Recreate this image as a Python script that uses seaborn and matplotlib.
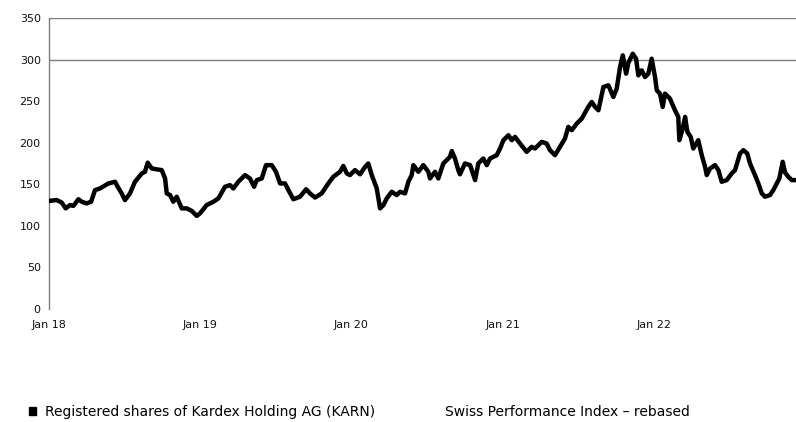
import pandas as pd
import seaborn as sns
import matplotlib.pyplot as plt
import matplotlib.dates as mdates
from matplotlib.patches import Patch

# time as decimal years, values of the Kardex share (rebased)
t_year = [
    2018.000, 2018.051, 2018.084, 2018.110, 2018.139, 2018.161, 2018.194, 2018.216,
    2018.249, 2018.278, 2018.304, 2018.337, 2018.392, 2018.436, 2018.454, 2018.480,
    2018.502, 2018.535, 2018.568, 2018.613, 2018.634, 2018.652, 2018.679, 2018.745,
    2018.767, 2018.778, 2018.800, 2018.821, 2018.844, 2018.877, 2018.910, 2018.943,
    2018.976, 2018.998, 2019.042, 2019.086, 2019.119, 2019.163, 2019.196, 2019.218,
    2019.251, 2019.295, 2019.328, 2019.355, 2019.373, 2019.406, 2019.434, 2019.472,
    2019.500, 2019.527, 2019.560, 2019.582, 2019.615, 2019.659, 2019.699, 2019.725,
    2019.758, 2019.802, 2019.846, 2019.879, 2019.923, 2019.945, 2019.968, 2019.989,
    2020.022, 2020.056, 2020.089, 2020.110, 2020.133, 2020.166, 2020.188, 2020.210,
    2020.232, 2020.265, 2020.298, 2020.320, 2020.353, 2020.375, 2020.397, 2020.408,
    2020.441, 2020.474, 2020.507, 2020.518, 2020.551, 2020.573, 2020.606, 2020.650,
    2020.662, 2020.683, 2020.705, 2020.716, 2020.749, 2020.783, 2020.816, 2020.837,
    2020.870, 2020.893, 2020.915, 2020.959, 2020.981, 2021.003, 2021.036, 2021.058,
    2021.080, 2021.113, 2021.157, 2021.190, 2021.212, 2021.256, 2021.289, 2021.311,
    2021.344, 2021.377, 2021.410, 2021.432, 2021.455, 2021.488, 2021.521, 2021.564,
    2021.587, 2021.609, 2021.631, 2021.664, 2021.697, 2021.730, 2021.752, 2021.774,
    2021.792, 2021.814, 2021.829, 2021.858, 2021.880, 2021.895, 2021.917, 2021.939,
    2021.961, 2021.983, 2022.005, 2022.017, 2022.038, 2022.056, 2022.071, 2022.104,
    2022.137, 2022.159, 2022.166, 2022.188, 2022.204, 2022.219, 2022.241, 2022.258,
    2022.291, 2022.314, 2022.336, 2022.347, 2022.369, 2022.402, 2022.424, 2022.446,
    2022.479, 2022.512, 2022.534, 2022.567, 2022.589, 2022.615, 2022.633, 2022.666,
    2022.688, 2022.711, 2022.732, 2022.765, 2022.787, 2022.810, 2022.827, 2022.849,
    2022.865, 2022.886, 2022.909, 2022.937,
]
karn = [
    130, 131, 128, 121, 125, 124, 132, 129,
    127, 129, 143, 145, 151, 153, 147, 139,
    131, 139, 153, 163, 165, 176, 169, 167,
    157, 139, 137, 129, 135, 121, 121, 118,
    112, 115, 125, 129, 133, 147, 149, 145,
    153, 161, 157, 147, 155, 157, 173, 173,
    165, 151, 151, 143, 132, 135, 144, 139,
    134, 139, 151, 159, 165, 172, 163, 161,
    167, 162, 171, 175, 161, 145, 121, 125,
    133, 141, 137, 141, 139, 153, 161, 173,
    165, 173, 165, 157, 165, 157, 175, 183,
    190, 181, 167, 162, 175, 173, 155, 175,
    181, 173, 181, 185, 193, 203, 209, 203,
    207, 199, 189, 195, 193, 201, 199, 191,
    185, 195, 205, 219, 215, 223, 229, 243,
    249, 243, 239, 267, 269, 255, 265, 291,
    305, 283, 296, 307, 301, 281, 287, 279,
    283, 301, 279, 263, 259, 243, 259, 253,
    239, 231, 203, 217, 231, 213, 207, 193,
    203, 185, 171, 161, 169, 173, 167, 153,
    155, 163, 167, 187, 191, 187, 175, 161,
    151, 139, 135, 137, 143, 151, 157, 177,
    164, 159, 155, 155,
]
year_ticks = [2018, 2019, 2020, 2021, 2022]
y_ticks = [0, 50, 100, 150, 200, 250, 300, 350]
grid_levels = [300, 350]
labels = ["Registered shares of Kardex Holding AG (KARN)", "Swiss Performance Index \u2013 rebased"]


def to_date(y):
    return pd.Timestamp("2018-01-01") + pd.to_timedelta((y - 2018) * 365.25, unit="D")


df = pd.DataFrame({"date": [to_date(v) for v in t_year], "KARN": karn})

sns.set_style("white")
plt.rcParams["font.family"] = ["DejaVu Sans"]

fig = plt.figure(figsize=(7.96, 4.22), dpi=100)
ax = fig.add_axes([0.0616, 0.2678, 0.9384, 0.6896])

for g in grid_levels:
    ax.axhline(g, color="#7f7f7f", linewidth=1.0, zorder=1)

sns.lineplot(data=df, x="date", y="KARN", color="black", linewidth=3.2, ax=ax, zorder=3)

ax.set_ylim(0, 350)
ax.set_yticks(y_ticks)
ax.set_xlim(to_date(2018.0), to_date(t_year[-1]))
ax.set_xticks([pd.Timestamp(f"{y}-01-01") for y in year_ticks])
ax.xaxis.set_major_formatter(mdates.DateFormatter("%b %y"))
ax.set_xlabel("")
ax.set_ylabel("")

for s in ["top", "right", "bottom"]:
    ax.spines[s].set_visible(False)
ax.spines["left"].set_color("#7f7f7f")
ax.spines["left"].set_linewidth(1.0)
ax.tick_params(axis="y", length=3, width=0.8, color="#7f7f7f", labelsize=8, pad=3, labelcolor="#111111")
ax.tick_params(axis="x", length=2, width=0.6, color="#aaaaaa", labelsize=8, pad=6, labelcolor="#111111")

handles = [Patch(facecolor="black", edgecolor="black"), Patch(facecolor="white", edgecolor="white")]
leg = fig.legend(handles, labels, loc="center left", bbox_to_anchor=(0.0205, 0.024), ncol=2, frameon=False,
                 borderpad=0.4, handlelength=0.5, handleheight=0.6, handletextpad=0.7, columnspacing=3.8,
                 prop={"family": ["DejaVu Sans"], "size": 10})
for txt in leg.get_texts():
    txt.set_color("black")

fig.savefig("out.png", dpi=100)
